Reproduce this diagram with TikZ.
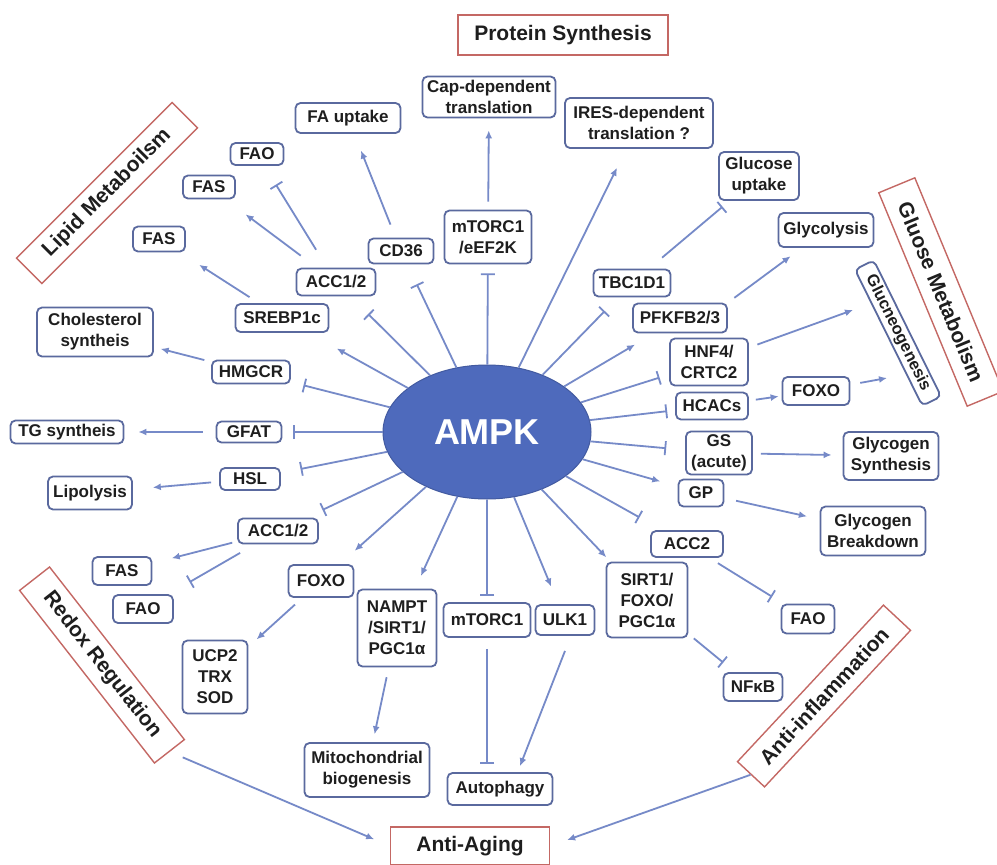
\documentclass[tikz,border=0pt]{standalone}
\usepackage{fontspec}
\setmainfont{Liberation Sans}
\usetikzlibrary{arrows.meta,shapes.geometric,calc}
\definecolor{boxc}{RGB}{90,105,158}
\definecolor{arrc}{RGB}{118,138,200}
\definecolor{ampkc}{RGB}{78,106,188}
\definecolor{redc}{RGB}{196,104,100}
\definecolor{txtc}{RGB}{30,30,30}
\begin{document}
\begin{tikzpicture}[x=1pt,y=-1pt,
  box/.style={draw=boxc, line width=1.8pt, rounded corners=5pt, fill=white, text=txtc,
    font=\fontsize{17}{21}\selectfont\bfseries, align=center, inner sep=1pt},
  sz/.style 2 args={minimum width=#1pt, minimum height=#2pt},
  cat/.style={draw=redc, line width=1.4pt, fill=white, text=txtc,
    font=\fontsize{21}{24}\selectfont\bfseries, inner sep=0pt},
  act/.style={draw=arrc, line width=1.8pt, -{Latex[length=8pt,width=7pt]}},
  inh/.style={draw=arrc, line width=1.8pt, -{Bar[width=14pt,line width=1.8pt]}},
]
\useasboundingbox (0,0) rectangle (997,865);
\fill[white] (0,0) rectangle (997,865);

% centre
\node[ellipse, fill=ampkc, draw=ampkc!85!black, line width=1pt, minimum width=208pt,
  minimum height=134pt, inner sep=0pt, text=white,
  font=\fontsize{36}{40}\selectfont\bfseries] (ampk) at (487,432) {AMPK};

% category boxes
\node[cat, minimum width=210pt, minimum height=40pt] (protsyn) at (563,35) {Protein Synthesis};
\node[cat, rotate=45, minimum width=220pt, minimum height=36pt] (lipid) at (107,193) {Lipid Metaboilsm};
\node[cat, rotate=-67.5, minimum width=231pt, minimum height=39pt] (glucmet) at (941,292) {Gluose Metabolism};
\node[cat, rotate=-52, minimum width=219pt, minimum height=38pt] (redox) at (102,665) {Redox Regulation};
\node[cat, rotate=47, minimum width=214pt, minimum height=37pt] (antiinf) at (824,696) {Anti-inflammation};
\node[cat, minimum width=159pt, minimum height=38pt] (antiaging) at (470,846) {Anti-Aging};

% top
\node[box, sz={133}{41}] (capdep) at (489,97) {Cap-dependent\\translation};
\node[box, sz={148}{50}] (ires) at (639,123) {IRES-dependent\\translation ?};
\node[box, sz={105}{30}] (faup) at (348,118) {FA uptake};
\node[box, sz={87}{53}] (mtoreef) at (488,237) {mTORC1\\/eEF2K};
\node[box, sz={65}{25}] (cd36) at (401,251) {CD36};
\node[box, sz={79}{27}] (acc12a) at (336,282) {ACC1/2};

% left
\node[box, sz={53}{22}] (fao1) at (257,154) {FAO};
\node[box, sz={52}{23}] (fas1) at (209,187) {FAS};
\node[box, sz={52}{25}] (fas2) at (159,239) {FAS};
\node[box, sz={116}{49}] (chol) at (95,332) {Cholesterol\\syntheis};
\node[box, sz={93}{28}] (srebp) at (282,318) {SREBP1c};
\node[box, sz={78}{23}] (hmgcr) at (251,372) {HMGCR};
\node[box, sz={113}{23}] (tg) at (67,432) {TG syntheis};
\node[box, sz={65}{21}] (gfat) at (249,432) {GFAT};
\node[box, sz={84}{33}] (lipo) at (90,493) {Lipolysis};
\node[box, sz={60}{22}] (hsl) at (250,479) {HSL};
\node[box, sz={80}{25}] (acc12b) at (278,531) {ACC1/2};
\node[box, sz={59}{28}] (fasb) at (122,571) {FAS};
\node[box, sz={60}{28}] (faob) at (143,609) {FAO};

% bottom
\node[box, sz={65}{32}] (foxol) at (321,581) {FOXO};
\node[box, sz={65}{73}] (ucp) at (215,677) {UCP2\\TRX\\SOD};
\node[box, sz={79}{77}] (nampt) at (397,628) {NAMPT\\/SIRT1/\\PGC1α};
\node[box, sz={87}{34}] (mtorc1b) at (487,620) {mTORC1};
\node[box, sz={59}{30}] (ulk1) at (565,620) {ULK1};
\node[box, sz={81}{75}] (sirt) at (647,600) {SIRT1/\\FOXO/\\PGC1α};
\node[box, sz={125}{54}] (mito) at (367,770) {Mitochondrial\\biogenesis};
\node[box, sz={105}{32}] (autoph) at (500,789) {Autophagy};

% right
\node[box, sz={77}{27}] (tbc) at (632,283) {TBC1D1};
\node[box, sz={80}{48}] (glucup) at (759,176) {Glucose\\uptake};
\node[box, sz={95}{34}] (glycol) at (826,230) {Glycolysis};
\node[box, sz={94}{29}] (pfkfb) at (680,318) {PFKFB2/3};
\node[box, sz={78}{47}] (hnf4) at (709,362) {HNF4/\\CRTC2};
\node[box, sz={72}{27}] (hcacs) at (712,406) {HCACs};
\node[box, sz={67}{28}] (foxor) at (816,391) {FOXO};
\node[box, rotate=-63.7, sz={152}{21}, inner sep=0.5pt, font=\fontsize{16.5}{18}\selectfont\bfseries] (gluconeo) at (898,333) {Glucneogenesis};
\node[box, sz={66}{43}] (gs) at (719,453) {GS\\(acute)};
\node[box, sz={95}{48}] (glycs) at (891,456) {Glycogen\\Synthesis};
\node[box, sz={45}{27}] (gp) at (701,493) {GP};
\node[box, sz={105}{49}] (glycb) at (873,531) {Glycogen\\Breakdown};
\node[box, sz={72}{26}] (acc2) at (687,544) {ACC2};
\node[box, sz={53}{29}] (faor) at (808,619) {FAO};
\node[box, sz={59}{28}] (nfkb) at (753,687) {NFκB};

\coordinate (gn1) at (853,310);
\coordinate (gn2) at (887,378);

% connectors from AMPK
\draw[act, shorten >=32pt] (ampk) -- (srebp);
\draw[inh, shorten >=13pt] (ampk) -- (hmgcr);
\draw[inh, shorten >=11pt] (ampk) -- (gfat);
\draw[inh, shorten >=20pt] (ampk) -- (hsl);
\draw[inh, shorten >=18pt] (ampk) -- (acc12b);
\draw[act, shorten >=20pt] (ampk) -- (foxol);
\draw[act, shorten >=14pt] (ampk) -- (nampt);
\draw[inh, shorten >=6pt] (ampk) -- (mtorc1b);
\draw[act, shorten >=19pt] (ampk) -- (ulk1);
\draw[act, shorten >=6pt] (ampk) -- (sirt);
\draw[inh, shorten >=26pt] (ampk) -- (acc2);
\draw[act, shorten >=18pt] (ampk) -- (gp);
\draw[inh, shorten >=19pt] (ampk) -- (gs);
\draw[inh, shorten >=8pt] (ampk) -- (hcacs);
\draw[inh, shorten >=10pt] (ampk) -- (hnf4);
\draw[act, shorten >=22pt] (ampk) -- (pfkfb);
\draw[inh, shorten >=19pt] (ampk) -- (tbc);
\draw[act, shorten >=21pt] (ampk) -- (ires);
\draw[inh, shorten >=9pt] (ampk) -- (mtoreef);
\draw[inh, shorten >=22pt] (ampk) -- (cd36);
\draw[inh, shorten >=25pt] (ampk) -- (acc12a);

% secondary connectors
\draw[act, shorten <=7pt, shorten >=7pt] (hmgcr) -- (chol);
\draw[act, shorten <=13pt, shorten >=14pt] (gfat) -- (tg);
\draw[act, shorten <=8pt, shorten >=20pt] (hsl) -- (lipo);
\draw[act, shorten <=11pt, shorten >=23pt] (srebp) -- (fas2);
\draw[act, shorten <=20pt, shorten >=25pt] (acc12a) -- (fas1);
\draw[inh, shorten <=21pt, shorten >=22pt] (acc12a) -- (fao1);
\draw[act, shorten <=14pt, shorten >=18pt] (cd36) -- (faup);
\draw[act, shorten <=8pt, shorten >=12pt] (mtoreef) -- (capdep);
\draw[inh, shorten <=17pt, shorten >=9pt] (tbc) -- (glucup);
\draw[act, shorten <=8pt, shorten >=14pt] (pfkfb.north east) -- (glycol);
\draw[act, shorten <=9pt] (hnf4) -- (gn1);
\draw[act, shorten <=7pt, shorten >=3pt] (hcacs) -- (foxor);
\draw[act, shorten <=10pt] (foxor) -- (gn2);
\draw[act, shorten <=8pt, shorten >=11pt] (gs) -- (glycs);
\draw[act, shorten <=12pt, shorten >=13pt] (gp) -- (glycb);
\draw[inh, shorten <=10pt, shorten >=13pt] (acc2) -- (faor);
\draw[inh, shorten <=7pt, shorten >=15pt] (sirt) -- (nfkb);
\draw[act, shorten <=5pt, shorten >=20pt] (acc12b) -- (fasb);
\draw[inh, shorten <=17pt, shorten >=24pt] (acc12b) -- (faob);
\draw[act, shorten <=10pt, shorten >=11pt] (foxol) -- (ucp);
\draw[act, shorten <=10pt, shorten >=8pt] (nampt) -- (mito);
\draw[inh, shorten <=11pt, shorten >=8pt] (mtorc1b) -- (mtorc1b |- autoph.north);
\draw[act] ([yshift=-15pt]ulk1.south) -- ([xshift=20pt,yshift=6pt]autoph.north);
\draw[act, shorten <=14pt, shorten >=17pt] (redox.east) -- (antiaging.west);
\draw[act, shorten >=18pt] (antiinf.west) -- (antiaging.east);
\end{tikzpicture}
\end{document}
